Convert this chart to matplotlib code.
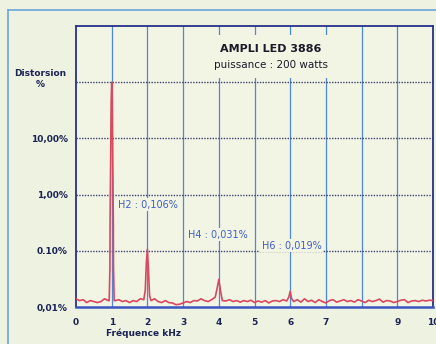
import matplotlib
matplotlib.use("Agg")
import matplotlib.pyplot as plt
from matplotlib.patches import Rectangle
from matplotlib.lines import Line2D

# ---- data (frequency in kHz, distortion in %) ----
freq = [0.0, 0.1, 0.2, 0.3, 0.4, 0.5, 0.6, 0.7, 0.8, 0.9, 0.93, 0.95, 0.955, 0.97, 0.985,
        1.0, 1.015, 1.03, 1.045, 1.05, 1.07, 1.1, 1.2, 1.3, 1.4, 1.5, 1.6, 1.7, 1.8, 1.9,
        1.94, 1.97, 2.0, 2.03, 2.06, 2.1, 2.2, 2.3, 2.4, 2.5, 2.6, 2.7, 2.8, 2.9,
        3.0, 3.1, 3.2, 3.3, 3.4, 3.5, 3.6, 3.7, 3.8, 3.9, 3.95, 4.0, 4.05, 4.1,
        4.2, 4.3, 4.4, 4.5, 4.6, 4.7, 4.8, 4.9, 5.0, 5.1, 5.2, 5.3, 5.4, 5.5,
        5.6, 5.7, 5.8, 5.9, 5.96, 6.0, 6.04, 6.1, 6.2, 6.3, 6.4, 6.5, 6.6, 6.7,
        6.8, 6.9, 7.0, 7.1, 7.2, 7.3, 7.4, 7.5, 7.6, 7.7, 7.8, 7.9, 8.0, 8.1,
        8.2, 8.3, 8.4, 8.5, 8.6, 8.7, 8.8, 8.9, 9.0, 9.1, 9.2, 9.3, 9.4, 9.5,
        9.6, 9.7, 9.8, 9.9, 10.0]
dist = [0.014, 0.013, 0.0135, 0.012, 0.013, 0.0125, 0.012, 0.0125, 0.014, 0.013, 0.013, 0.05, 0.35, 3.4, 45,
        100, 45, 3.4, 0.35, 0.05, 0.013, 0.013, 0.0135, 0.0125, 0.013, 0.012, 0.013, 0.0125, 0.014, 0.0135,
        0.02, 0.06, 0.106, 0.045, 0.016, 0.013, 0.014, 0.0125, 0.012, 0.013, 0.012, 0.0118, 0.011, 0.0112,
        0.0118, 0.0125, 0.012, 0.013, 0.0128, 0.014, 0.013, 0.0125, 0.0135, 0.015, 0.021, 0.031, 0.019, 0.013,
        0.0128, 0.0135, 0.0125, 0.013, 0.0122, 0.013, 0.0125, 0.0132, 0.012, 0.0128, 0.0122, 0.013, 0.0118, 0.0128,
        0.013, 0.0125, 0.0135, 0.0128, 0.015, 0.019, 0.014, 0.0125, 0.0135, 0.0122, 0.014, 0.0125, 0.0132, 0.012,
        0.0135, 0.0125, 0.0118, 0.013, 0.0135, 0.0122, 0.0128, 0.0135, 0.0125, 0.013, 0.0122, 0.0135, 0.0128, 0.012,
        0.0132, 0.0125, 0.013, 0.0138, 0.0122, 0.013, 0.0128, 0.012, 0.0125, 0.0132, 0.0135, 0.012, 0.0128, 0.013,
        0.0125, 0.0132, 0.0128, 0.0132, 0.013]

xticks = [0, 1, 2, 3, 4, 5, 6, 7, 9, 10]
ytick_vals = [0.01, 0.1, 1, 10]
ytick_labels = ["0,01%", "0.10%", "1,00%", "10,00%"]
title1 = "AMPLI LED 3886"
title2 = "puissance : 200 watts"
annotations = [("H2 : 0,106%", 1.18, 0.66),
               ("H4 : 0,031%", 3.14, 0.195),
               ("H6 : 0,019%", 5.2, 0.123)]

bg = "#eef2e1"
navy = "#1c2355"
red = "#d8485e"
blue_txt = "#3d5fc6"

fig = plt.figure(figsize=(4.36, 3.44), dpi=100, facecolor=bg)

# outer light-blue frame
fig.add_artist(Line2D([8/436, 1.0], [1 - 10/344, 1 - 10/344], transform=fig.transFigure,
                      color="#6aa6da", lw=1.2))
fig.add_artist(Line2D([8/436, 8/436], [0, 1 - 10/344], transform=fig.transFigure,
                      color="#6aa6da", lw=1.2))

ax = fig.add_axes([76/436, 37/344, 357/436, 281/344])
ax.set_facecolor("#f2f4e4")
ax.set_yscale("log")
ax.set_xlim(0, 10)
ax.set_ylim(0.01, 1000)

# grid
for xv in range(1, 10):
    ax.axvline(xv, color="#4f88da", lw=0.9, zorder=1)
for yv in [0.1, 1, 10, 100]:
    ax.axhline(yv, color="#3a4470", lw=1.0, ls=(0, (1, 1)), zorder=1)

ax.plot(freq, dist, color=red, lw=1.2, zorder=3)

for s in ax.spines.values():
    s.set_color("#26318a")
    s.set_linewidth(1.3)
ax.spines["bottom"].set_color("#3b55c0")
ax.spines["bottom"].set_linewidth(1.8)

ax.set_xticks(xticks)
ax.set_xticklabels([str(t) for t in xticks])
ax.set_yticks(ytick_vals)
ax.set_yticklabels(ytick_labels)
ax.minorticks_off()
ax.tick_params(axis="x", length=0, colors=navy, labelsize=6.5, pad=8)
ax.tick_params(axis="y", length=0, colors=navy, labelsize=6.5, pad=6)
for lab in ax.get_xticklabels() + ax.get_yticklabels():
    lab.set_fontweight("bold")
    lab.set_color(navy)

ax.set_xlabel("Fréquence kHz", fontsize=6.5, fontweight="bold", color=navy, labelpad=1)
ax.xaxis.set_label_coords(0.19, -0.075)

fig.text(40/436, 1 - 79/344, "Distorsion\n%", ha="center", va="center",
         fontsize=6.5, fontweight="bold", color=navy, linespacing=1.2)

# title box
ax.add_patch(Rectangle((3.2, 120), 4.4, 560, facecolor="#f2f4e4", edgecolor="none", zorder=2))
ax.text(5.45, 390, title1, ha="center", va="center", fontsize=8, fontweight="bold",
        color="#1a1a2a", zorder=4)
ax.text(5.45, 205, title2, ha="center", va="center", fontsize=7.5,
        color="#1a1a2a", zorder=4)

for txt, xv, yv in annotations:
    ax.text(xv, yv, txt, ha="left", va="center", fontsize=7, color=blue_txt, zorder=4,
            bbox=dict(boxstyle="square,pad=0.15", facecolor="#f2f4e4", edgecolor="none"))

fig.savefig("out.png", dpi=100, facecolor=bg)
